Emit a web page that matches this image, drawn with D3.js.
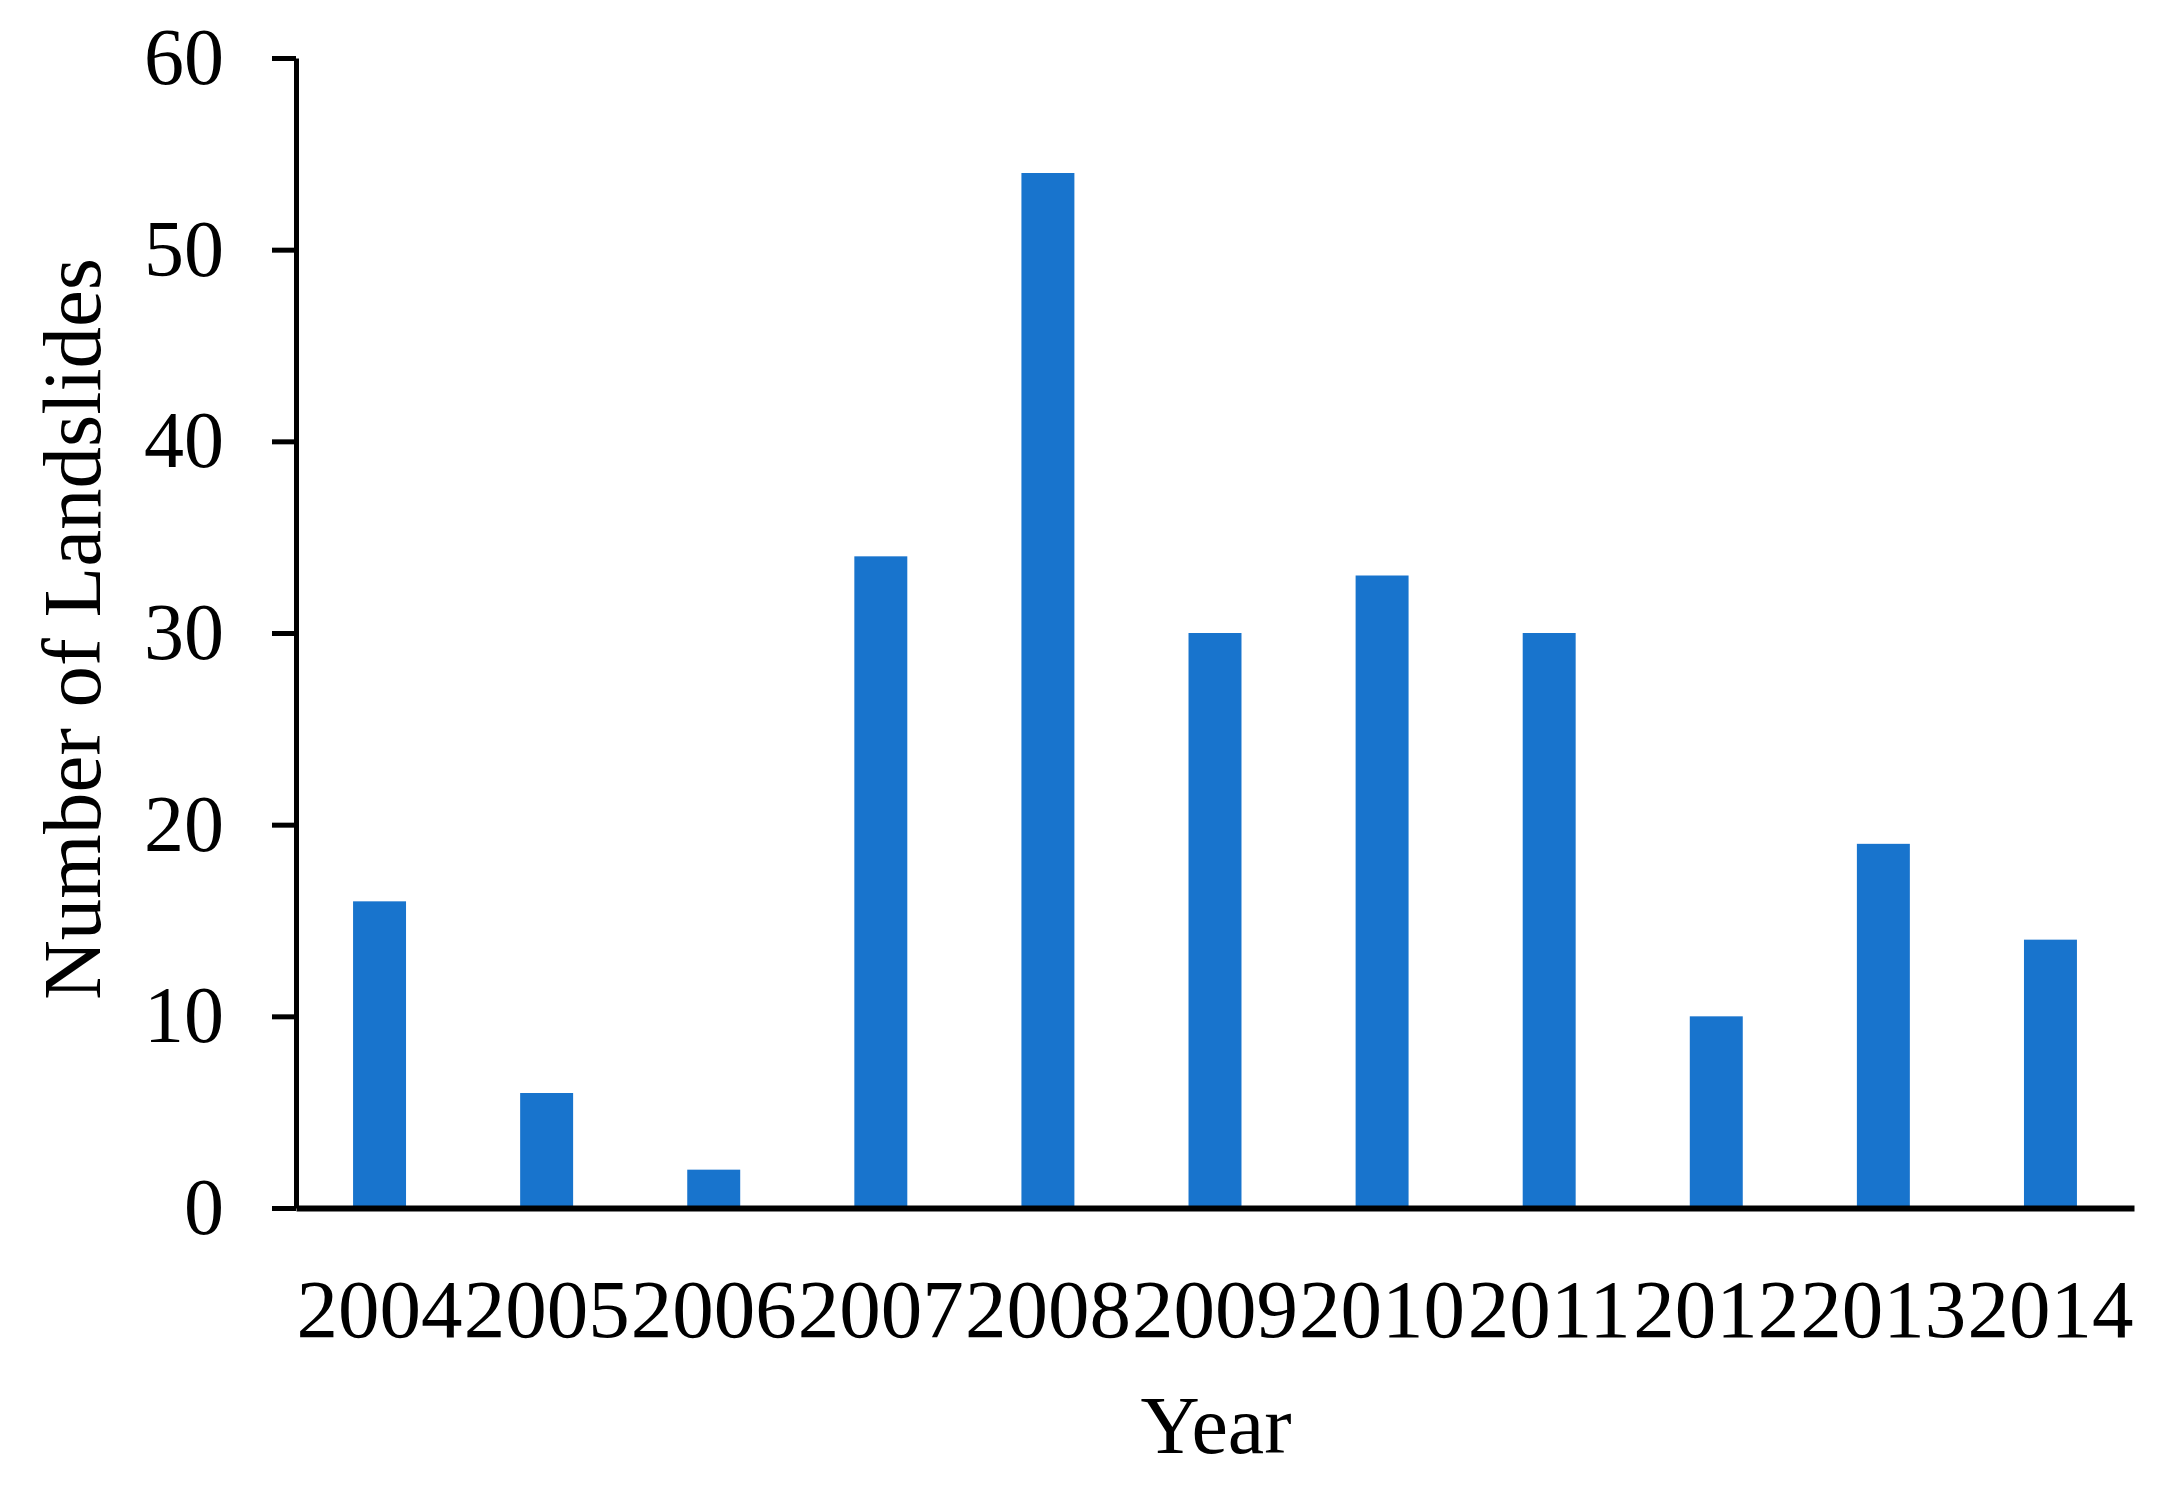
<!DOCTYPE html>
<html>
<head>
<meta charset="utf-8">
<script src="https://cdn.jsdelivr.net/npm/d3@7"></script>
<style>
  body { margin: 0; background: #fff; }
  svg text { font-family: "Liberation Serif", "Times New Roman", serif; fill: #000; }
</style>
</head>
<body>
<div class="chart"></div>
<script>
var years = ["2004", "2005", "2006", "2007", "2008", "2009", "2010", "2011", "2012", "2013", "2014"];
var landslides = [16, 6, 2, 34, 54, 30, 33, 30, 10, 19, 14];
var yTicks = [0, 10, 20, 30, 40, 50, 60];

var width = 2174,
    height = 1499,
    plotLeft = 296,
    plotRight = 2134,
    plotTop = 58,
    plotBottom = 1208;

var svg = d3.select(".chart")
  .append("svg")
  .attr("width", width)
  .attr("height", height);

var x = d3.scaleBand()
  .domain(years)
  .range([plotLeft, plotRight])
  .paddingInner(0.683)
  .paddingOuter(0.683 / 2);

var y = d3.scaleLinear()
  .domain([0, 60])
  .range([plotBottom, plotTop]);

// bars
svg.selectAll(".bar")
  .data(years)
  .enter()
  .append("rect")
  .attr("class", "bar")
  .attr("x", function(d){ return x(d); })
  .attr("width", x.bandwidth())
  .attr("y", function(d, i){ return y(landslides[i]); })
  .attr("height", function(d, i){ return y(0) - y(landslides[i]); })
  .attr("fill", "#1874cd");

// y axis
var yAxis = svg.append("g")
  .attr("transform", "translate(" + plotLeft + ",0)")
  .call(d3.axisLeft(y).tickValues(yTicks).tickSize(24).tickPadding(48).tickSizeOuter(0));

yAxis.select(".domain").attr("stroke", "#000").attr("stroke-width", 5);
yAxis.selectAll(".tick line").attr("stroke", "#000").attr("stroke-width", 5);
yAxis.selectAll(".tick text")
  .style("font-size", "80px")
  .style("font-family", "'Liberation Serif', 'Times New Roman', serif");

// x axis
var xAxis = svg.append("g")
  .attr("transform", "translate(0," + plotBottom + ")")
  .call(d3.axisBottom(x).tickSize(0).tickSizeOuter(0));

xAxis.select(".domain").attr("stroke", "#000").attr("stroke-width", 6);
xAxis.selectAll(".tick text")
  .attr("y", 129)
  .attr("dy", 0)
  .style("font-size", "83px")
  .style("font-family", "'Liberation Serif', 'Times New Roman', serif");

// axis titles
svg.append("text")
  .attr("x", 1216)
  .attr("y", 1453)
  .attr("text-anchor", "middle")
  .style("font-size", "82px")
  .text("Year");

svg.append("text")
  .attr("transform", "translate(100,629) rotate(-90)")
  .attr("text-anchor", "middle")
  .style("font-size", "83px")
  .text("Number of Landslides");
</script>
</body>
</html>
